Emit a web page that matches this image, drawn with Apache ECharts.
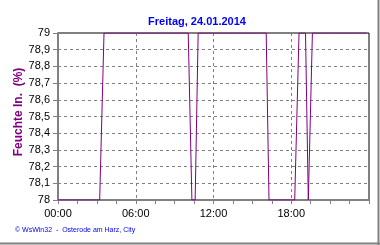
<!DOCTYPE html>
<html><head><meta charset="utf-8">
<script src="https://cdn.jsdelivr.net/npm/echarts@6/dist/echarts.min.js"></script>
<style>html,body{margin:0;padding:0;background:#fff}#c{width:380px;height:245px}</style>
</head><body><div id="c"></div>
<script>
const times = ['00:00','03:13','03:33','10:03','10:20','10:35','10:49','16:04','16:17','18:16','18:36','19:06','19:19','19:38','23:50'];
const humidity = [78,78,79,79,78,78,79,79,78,78,79,79,78,79,79];
const xTickLabels = ['00:00','06:00','12:00','18:00'];
const yTickLabels = ['78','78,1','78,2','78,3','78,4','78,5','78,6','78,7','78,8','78,9','79'];
const title = 'Freitag, 24.01.2014';
const yName = 'Feuchte In.  (%)';
const footer = '\u00a9 WsWin32  -  Osterode am Harz, City';

const toH = t => { const p = t.split(':'); return +p[0] + (+p[1]) / 60; };
const data = times.map((t, i) => [toH(t), humidity[i]]);

const chart = echarts.init(document.getElementById('c'), null, {renderer: 'canvas'});
const font = 'Liberation Sans, Arial, sans-serif';
chart.setOption({
  animation: false,
  backgroundColor: '#fff',
  title: {text: title, left: 192, textAlign: 'center', top: 11,
    textStyle: {color: '#0000ff', fontSize: 11, fontWeight: 'bold', fontFamily: font}},
  grid: {left: 58, top: 33, right: 11, bottom: 45, show: true, borderColor: '#000', borderWidth: 1, backgroundColor: '#fff'},
  xAxis: {type: 'value', min: 0, max: 24, interval: 6,
    axisLine: {show: true, onZero: false, lineStyle: {color: '#808080', width: 2}},
    axisTick: {show: true, length: 4, lineStyle: {color: '#808080'}},
    minorTick: {show: true, splitNumber: 4, length: 4, lineStyle: {color: '#808080'}},
    splitLine: {show: true, lineStyle: {color: '#808080', type: [3, 3], width: 1}},
    axisLabel: {color: '#000', fontSize: 11, fontFamily: font, margin: 8, showMaxLabel: false,
      formatter: v => xTickLabels[Math.round(v / 6)] || ''}},
  yAxis: {type: 'value', min: 78, max: 79, interval: 0.1,
    axisLine: {show: true, onZero: false, lineStyle: {color: '#808080', width: 2}},
    axisTick: {show: true, length: 5, lineStyle: {color: '#808080'}},
    splitLine: {show: true, lineStyle: {color: '#808080', type: [3, 3], width: 1}},
    axisLabel: {color: '#000', fontSize: 11, fontFamily: font, margin: 8,
      formatter: v => yTickLabels[Math.round((v - 78) * 10)]}},
  series: [{type: 'line', data: data, showSymbol: false, symbol: 'none',
    lineStyle: {color: '#800080', width: 1}, z: 5}],
  graphic: [
    {type: 'text', x: 19, y: 112, rotation: Math.PI / 2,
      style: {text: yName, fill: '#800080', font: 'bold 12px ' + font, align: 'center', verticalAlign: 'middle'}},
    {type: 'text', x: 15, y: 230,
      style: {text: footer, fill: '#0000ff', font: '7px ' + font, align: 'left', verticalAlign: 'middle'}},
    {type: 'line', shape: {x1: 378.5, y1: 0, x2: 378.5, y2: 245}, style: {stroke: '#808080', lineWidth: 2}},
    {type: 'line', shape: {x1: 0, y1: 243.5, x2: 380, y2: 243.5}, style: {stroke: '#808080', lineWidth: 2}}
  ]
});
</script></body></html>
